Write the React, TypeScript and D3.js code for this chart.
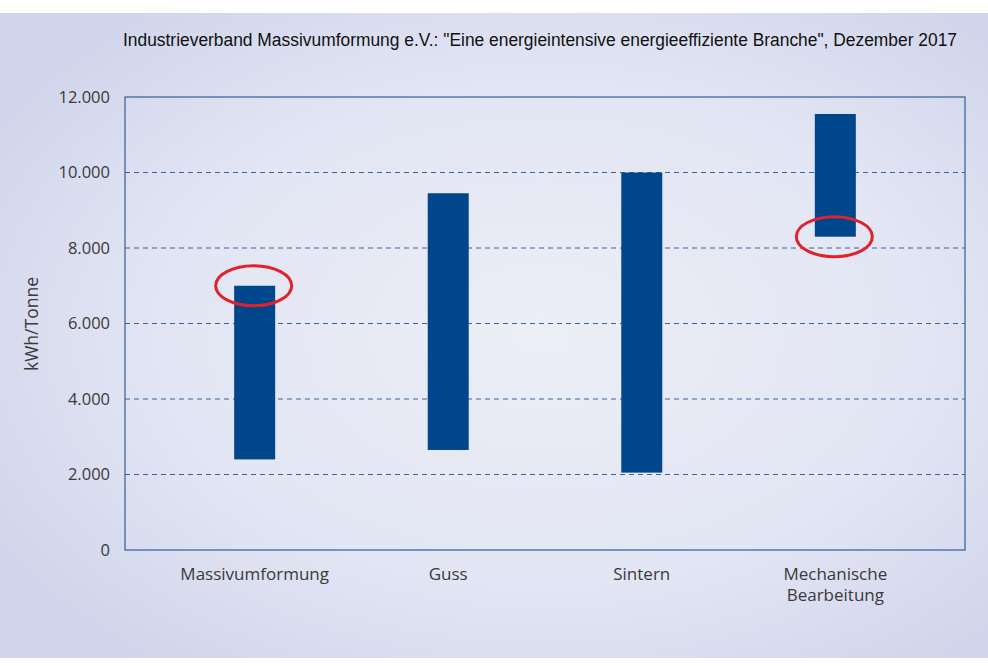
import { useEffect, useRef } from 'react';
import * as d3 from 'd3';

// ─── Data ───────────────────────────────────────────────────

const CATEGORIES = ['Massivumformung', 'Guss', 'Sintern', 'Mechanische\nBearbeitung'];
const LOW_VALUES = [2400, 2650, 2050, 8300];
const HIGH_VALUES = [7000, 9450, 10000, 11550];
const Y_TICKS = [0, 2000, 4000, 6000, 8000, 10000, 12000];
// red ellipse annotations: category index + value they circle
const MARK_INDEX = [0, 3];
const MARK_VALUES = [7000, 8300];

const TITLE =
  'Industrieverband Massivumformung e.V.: "Eine energieintensive energieeffiziente Branche", Dezember 2017';
const Y_LABEL = 'kWh/Tonne';

// ─── Constants ──────────────────────────────────────────────

const W = 988;
const H = 666;
const MARGIN = { top: 97, right: 23, bottom: 116, left: 125 };
const BAR_COLOR = '#00468c';
const GRID_COLOR = '#3a6496';
const TEXT_COLOR = '#3a3a3a';
const FONT = '"Open Sans", "Noto Sans", sans-serif';

export default function App() {
  const svgRef = useRef<SVGSVGElement>(null);

  useEffect(() => {
    if (!svgRef.current) return;
    const svg = d3.select(svgRef.current);
    svg.selectAll('*').remove();

    const innerW = W - MARGIN.left - MARGIN.right;
    const innerH = H - MARGIN.top - MARGIN.bottom;

    // Background panel with soft radial gradient
    const defs = svg.append('defs');
    const grad = defs.append('radialGradient')
      .attr('id', 'bg')
      .attr('cx', '55%').attr('cy', '50%').attr('r', '65%');
    grad.append('stop').attr('offset', '0%').attr('stop-color', '#eceef7');
    grad.append('stop').attr('offset', '60%').attr('stop-color', '#e2e5f3');
    grad.append('stop').attr('offset', '100%').attr('stop-color', '#d0d5eb');

    svg.append('rect')
      .attr('x', 0).attr('y', 0).attr('width', W).attr('height', H)
      .attr('fill', '#ffffff');
    svg.append('rect')
      .attr('x', 0).attr('y', 13).attr('width', W).attr('height', 645)
      .attr('fill', 'url(#bg)');

    // Title
    svg.append('text')
      .attr('x', 123).attr('y', 46)
      .attr('font-family', '"Liberation Sans", Arial, sans-serif')
      .attr('font-size', '18px')
      .attr('textLength', 834)
      .attr('lengthAdjust', 'spacingAndGlyphs')
      .attr('fill', '#111')
      .text(TITLE);

    // Scales
    const x = d3.scalePoint<string>()
      .domain(CATEGORIES)
      .range([0, innerW])
      .padding(0.67);

    const y = d3.scaleLinear()
      .domain([0, 12000])
      .range([innerH, 0]);

    const barW = 41;

    const g = svg.append('g')
      .attr('transform', `translate(${MARGIN.left},${MARGIN.top})`);

    // Gridlines
    g.selectAll('.grid')
      .data(Y_TICKS.filter((t) => t > 0 && t < 12000))
      .join('line')
      .attr('class', 'grid')
      .attr('x1', 0).attr('x2', innerW)
      .attr('y1', (d) => y(d)).attr('y2', (d) => y(d))
      .attr('stroke', GRID_COLOR)
      .attr('stroke-width', 1)
      .attr('stroke-dasharray', '5 4');

    // Bars (floating ranges)
    const rows = CATEGORIES.map((c, i) => ({ c, lo: LOW_VALUES[i], hi: HIGH_VALUES[i] }));
    g.selectAll('.bar')
      .data(rows)
      .join('rect')
      .attr('class', 'bar')
      .attr('x', (d) => x(d.c)! - barW / 2)
      .attr('y', (d) => y(d.hi))
      .attr('width', barW)
      .attr('height', (d) => y(d.lo) - y(d.hi))
      .attr('fill', BAR_COLOR);

    // Plot frame
    g.append('rect')
      .attr('x', 0).attr('y', 0)
      .attr('width', innerW).attr('height', innerH)
      .attr('fill', 'none')
      .attr('stroke', '#2f5f98')
      .attr('stroke-width', 1.2);

    // Y axis
    g.append('g')
      .call(d3.axisLeft(y).tickValues(Y_TICKS).tickSize(0).tickPadding(15)
        .tickFormat((d) => d3.format(',')(d as number).replace(/,/g, '.')))
      .call((sel) => sel.select('.domain').remove())
      .selectAll('text')
      .attr('fill', TEXT_COLOR)
      .attr('font-family', FONT)
      .attr('font-size', '16.5px');

    // X labels
    const xl = g.append('g')
      .attr('transform', `translate(0,${innerH})`)
      .selectAll('text')
      .data(CATEGORIES)
      .join('text')
      .attr('x', (d) => x(d)!)
      .attr('y', 30)
      .attr('text-anchor', 'middle')
      .attr('fill', TEXT_COLOR)
      .attr('font-family', FONT)
      .attr('font-size', '17px');
    xl.selectAll('tspan')
      .data((d) => d.split('\n').map((line) => ({ line, key: d })))
      .join('tspan')
      .attr('x', (d) => x(d.key)!)
      .attr('dy', (_d, i) => (i === 0 ? 0 : 21))
      .text((d) => d.line);

    // Y axis label
    svg.append('text')
      .attr('transform', `translate(38,324) rotate(-90)`)
      .attr('text-anchor', 'middle')
      .attr('fill', TEXT_COLOR)
      .attr('font-family', FONT)
      .attr('font-size', '17.5px')
      .text(Y_LABEL);

    // Red ellipse annotations
    g.selectAll('.mark')
      .data(MARK_INDEX.map((ci, i) => ({ c: CATEGORIES[ci], v: MARK_VALUES[i] })))
      .join('ellipse')
      .attr('class', 'mark')
      .attr('cx', (d) => x(d.c)! - 1)
      .attr('cy', (d) => y(d.v))
      .attr('rx', 38)
      .attr('ry', 20)
      .attr('fill', 'none')
      .attr('stroke', '#e3212b')
      .attr('stroke-width', 3);
  }, []);

  return (
    <svg
      ref={svgRef}
      width={W}
      height={H}
      style={{ position: 'absolute', left: 0, top: 0, display: 'block' }}
    />
  );
}
